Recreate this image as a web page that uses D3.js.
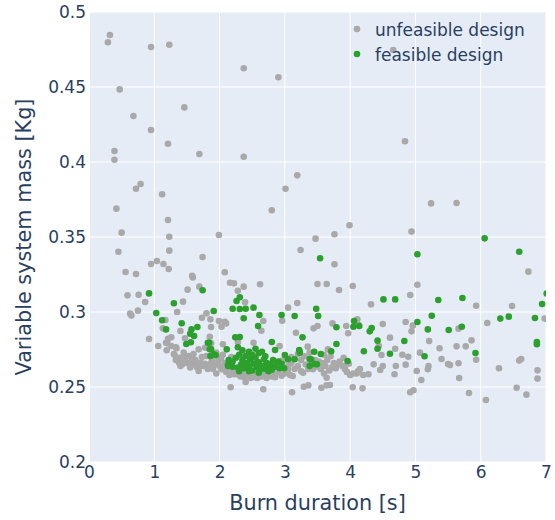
<!DOCTYPE html>
<html>
<head>
<meta charset="utf-8">
<title>Burn duration vs mass</title>
<script src="https://d3js.org/d3.v7.min.js"></script>
<style>
  body { margin: 0; background: #fff; }
  text { font-family: "DejaVu Sans", Verdana, sans-serif; fill: #2a3f5f; }
</style>
</head>
<body>
<svg width="555" height="520"></svg>
<script>
// tick values
const xTicks = [0, 1, 2, 3, 4, 5, 6, 7]
const yTicks = [0.2, 0.25, 0.3, 0.35, 0.4, 0.45, 0.5]

const seriesNames = ['unfeasible design', 'feasible design']
const seriesColors = ['#a9a9a9', '#2ca02c']

// [burn duration s, mass kg]
const unfeasible = [
  [0.32,0.4847],[0.29,0.4798],[0.95,0.4767],[1.23,0.4782],[2.37,0.4625],[2.90,0.4565],[0.47,0.4484],
  [1.46,0.4364],[0.68,0.4307],[0.95,0.4213],[1.21,0.4122],[0.39,0.4073],[0.39,0.4015],[1.69,0.4053],
  [2.37,0.4035],[0.79,0.3853],[0.72,0.3822],[1.12,0.3785],[0.42,0.3689],[2.80,0.3678],[1.21,0.3613],
  [0.50,0.3529],[1.23,0.3502],[1.99,0.3513],[0.45,0.3402],[1.23,0.3409],[1.74,0.3367],[1.04,0.3340],
  [4.66,0.4747],[4.84,0.4138],[3.19,0.3911],[3.01,0.3822],[5.24,0.3724],[5.63,0.3727],[3.99,0.3578],
  [4.94,0.3536],[3.76,0.3518],[3.47,0.3489],[3.24,0.3413],
  [3.76,0.3318],[6.73,0.3269],[3.50,0.3187],[3.64,0.3187],[4.04,0.3173],[5.03,0.3182],[3.83,0.3147],
  [4.92,0.3113],[4.32,0.3051],[5.93,0.3042],[6.48,0.3040],[3.19,0.3060],[3.05,0.3029],[2.96,0.2942],
  [6.98,0.2956],[6.10,0.2927],[3.73,0.2924],[3.44,0.2891],[3.50,0.2907],[3.94,0.2907],[4.11,0.2951],
  [4.12,0.2918],[4.50,0.2920],[4.85,0.2933],[4.96,0.2909],[4.94,0.2871],[5.66,0.2889],[3.97,0.2858],
  [3.17,0.2862],[4.61,0.2829],[5.21,0.2807],[5.86,0.2811],[2.92,0.2773],[3.35,0.2769],[5.63,0.2771],
  [5.77,0.2771],[5.37,0.2758],[4.44,0.2773],[4.69,0.2755],[3.66,0.2751],[4.48,0.2713],[4.80,0.2715],
  [4.89,0.2702],[5.07,0.2729],[5.93,0.2682],[5.40,0.2687],[6.62,0.2687],[6.59,0.2676],[5.66,0.2658],
  [5.50,0.2653],[5.53,0.2647],[5.20,0.2640],[5.19,0.2618],[6.28,0.2625],[6.87,0.2611],[6.87,0.2556],
  [5.02,0.2607],[4.85,0.2649],[4.70,0.2640],[4.50,0.2640],[4.36,0.2651],[4.46,0.2613],[5.09,0.2547],
  [5.67,0.2560],[5.82,0.2460],[6.08,0.2413],[6.55,0.2495],[6.70,0.2449],[4.92,0.2465],[4.97,0.2478],
  [4.04,0.2498],[4.19,0.2491],[3.56,0.2495],[3.64,0.2511],[3.69,0.2513],[3.29,0.2502],[3.36,0.2511],
  [3.11,0.2465],[4.68,0.2585],[4.28,0.2585],[4.10,0.2590],[4.00,0.2580],[3.90,0.2640],[3.64,0.2562],
  [0.56,0.3267],[0.72,0.3253],[0.95,0.3320],[1.14,0.3320],[1.22,0.3287],[0.59,0.3111],[0.76,0.3115],
  [0.86,0.3067],[0.63,0.2989],[0.65,0.2976],[0.75,0.3009],[0.92,0.2820],[1.06,0.2773],[1.17,0.2947],
  [1.13,0.2891],[1.21,0.2822],[1.18,0.2795],[1.26,0.2831],[1.26,0.2773],[1.35,0.3000],[1.44,0.3069],
  [1.40,0.2873],[1.51,0.3149],[1.58,0.3242],[1.59,0.3230],[1.69,0.3169],[1.80,0.2991],[1.73,0.2962],
  [1.86,0.2951],[1.47,0.2825],[1.33,0.2765],[1.31,0.2715],[1.39,0.2695],[1.38,0.2662],[2.08,0.3265],
  [2.16,0.3195],[2.22,0.3191],[2.37,0.3169],[2.28,0.3142],[2.62,0.3185],[2.39,0.3065],[2.67,0.2940],
  [2.64,0.2875],[1.99,0.2940],[2.08,0.2935],[2.10,0.2924],[2.03,0.2902],[2.28,0.2800],[2.52,0.2795],
  [1.87,0.2791],[2.17,0.2498],[2.40,0.2533],[2.67,0.2485],[1.85,0.2835],[1.87,0.2900],
  [1.19,0.2745],[1.20,0.2791],[1.34,0.2758],
  [1.30,0.2720],[1.33,0.2680],[1.35,0.2685],[1.40,0.2640],[1.43,0.2651],[1.45,0.2729],[1.48,0.2700],
  [1.50,0.2660],[1.53,0.2707],[1.53,0.2662],[1.55,0.2630],[1.58,0.2685],[1.60,0.2720],[1.62,0.2650],
  [1.66,0.2629],[1.68,0.2751],[1.68,0.2607],[1.71,0.2662],[1.73,0.2700],[1.75,0.2640],[1.78,0.2762],
  [1.80,0.2707],[1.82,0.2620],[1.85,0.2651],[1.88,0.2680],[1.90,0.2620],[1.95,0.2590],[1.98,0.2673],
  [2.00,0.2640],[2.03,0.2618],[2.05,0.2785],[2.08,0.2660],[2.10,0.2600],[2.12,0.2625],[2.15,0.2580],
  [2.18,0.2700],[2.20,0.2610],[2.22,0.2585],[2.26,0.2585],[2.28,0.2620],[2.32,0.2570],[2.35,0.2600],
  [2.38,0.2565],[2.41,0.2573],[2.45,0.2590],[2.48,0.2560],[2.52,0.2580],[2.55,0.2585],[2.58,0.2560],
  [2.62,0.2585],[2.65,0.2570],[2.70,0.2585],[2.72,0.2560],[2.76,0.2590],[2.80,0.2570],[2.85,0.2585],
  [2.90,0.2600],[2.95,0.2575],[3.00,0.2590],[3.05,0.2615],[3.08,0.2580],[3.12,0.2573],[3.15,0.2620],
  [3.20,0.2640],[3.25,0.2605],[3.28,0.2595],[3.32,0.2650],[3.36,0.2620],[3.40,0.2665],[3.43,0.2618],
  [3.46,0.2680],[3.50,0.2640],[3.55,0.2620],[3.57,0.2660],[3.60,0.2590],[3.62,0.2640],[3.65,0.2680],
  [3.68,0.2610],[3.72,0.2630],[3.75,0.2660],[3.80,0.2650],[3.84,0.2670],[3.88,0.2640],[3.92,0.2620],
  [3.98,0.2655],[4.05,0.2590],[4.15,0.2620],[4.20,0.2580],[3.00,0.2680],[3.10,0.2700],[3.20,0.2720],
  [3.30,0.2705],[3.10,0.2660],[3.38,0.2729],[2.95,0.2675],[3.60,0.2715],[3.70,0.2705],[3.90,0.2695],
  [2.05,0.2715],[1.95,0.2730],[2.35,0.2725],[1.98,0.2700],
  [1.42,0.2690],[1.47,0.2670],[1.57,0.2650],[1.63,0.2680],[1.70,0.2640],[1.77,0.2655],[1.93,0.2650],
  [2.02,0.2690],[2.06,0.2630],[2.15,0.2650],[2.25,0.2600],[2.55,0.2565],[2.85,0.2565],[3.05,0.2640],
  [3.25,0.2680],[3.45,0.2630],[3.52,0.2670],[3.78,0.2625],[3.95,0.2600],[4.12,0.2605]
]

const feasible = [
  [6.06,0.3491],[5.03,0.3385],[6.59,0.3402],[3.54,0.3358],[7.01,0.3124],[4.51,0.3084],[4.69,0.3084],
  [5.35,0.3080],[5.72,0.3093],[6.94,0.3053],[3.48,0.3022],[3.51,0.2973],[2.95,0.2980],[3.15,0.2973],
  [5.25,0.2975],[6.30,0.2956],[6.43,0.2969],[6.83,0.2960],[5.03,0.2933],[3.79,0.2898],[4.06,0.2940],
  [4.05,0.2902],[4.14,0.2907],[4.33,0.2893],[4.30,0.2871],[5.19,0.2884],[5.51,0.2880],[5.71,0.2902],
  [3.27,0.2831],[4.42,0.2809],[4.83,0.2807],[6.86,0.2800],[6.86,0.2785],[3.79,0.2787],[4.42,0.2755],
  [4.21,0.2738],[3.71,0.2738],[3.45,0.2735],[3.55,0.2720],[4.61,0.2722],[5.14,0.2705],[5.92,0.2727],
  [0.92,0.3124],[1.03,0.2993],[1.12,0.2945],[1.18,0.2884],[1.30,0.3058],[1.42,0.2925],[1.74,0.3145],
  [1.91,0.3007],[1.66,0.2900],[1.57,0.2884],[1.55,0.2855],[1.61,0.2840],[1.56,0.2798],[1.49,0.2787],
  [2.31,0.3098],[2.26,0.3073],[2.20,0.3022],[2.31,0.3020],[2.40,0.3022],[2.52,0.3029],[2.37,0.2958],
  [2.61,0.2980],[2.59,0.2907],[2.24,0.2831],[2.31,0.2833],[2.80,0.2800],[1.84,0.2795],[1.87,0.2753],
  [1.86,0.2707],[1.94,0.2713],[2.11,0.2751],[2.14,0.2680],[2.13,0.2640],[3.96,0.2673],[3.49,0.2651],
  [3.23,0.2729],[3.38,0.2640],[3.40,0.2684],[2.85,0.2747],[3.00,0.2713],[2.90,0.2669],[2.99,0.2625],
  [3.15,0.2685],[3.22,0.2747],[3.38,0.2687],[3.46,0.2653],[1.82,0.2795],[1.85,0.2751],[1.91,0.2718],
  [2.13,0.2651],[2.20,0.2670],[2.25,0.2695],[2.28,0.2630],[2.30,0.2715],[2.33,0.2650],[2.35,0.2680],
  [2.38,0.2625],[2.40,0.2705],[2.42,0.2660],[2.45,0.2635],[2.47,0.2685],[2.50,0.2610],[2.52,0.2655],
  [2.55,0.2695],[2.57,0.2630],[2.60,0.2665],[2.62,0.2615],[2.65,0.2640],[2.68,0.2685],[2.70,0.2620],
  [2.72,0.2660],[2.75,0.2635],[2.78,0.2655],[2.80,0.2615],[2.82,0.2680],[2.85,0.2635],[2.88,0.2665],
  [2.92,0.2625],[2.95,0.2655],[3.05,0.2685],[2.45,0.2735],[2.50,0.2715],[2.60,0.2725],[2.70,0.2705],
  [2.35,0.2745],[2.28,0.2765],[2.55,0.2755],[2.65,0.2735],[2.45,0.2605],[2.60,0.2595],[2.75,0.2605],
  [2.30,0.2605],[2.20,0.2635]
]

const svg = d3.select('svg')
const plot = {left: 89, top: 12, right: 546, bottom: 462}

const x = d3.scaleLinear().domain([0, 7]).range([plot.left, plot.right])
const y = d3.scaleLinear().domain([0.2, 0.5]).range([plot.bottom, plot.top])

// plot background
svg.append('rect')
  .attr('x', plot.left).attr('y', plot.top)
  .attr('width', plot.right - plot.left).attr('height', plot.bottom - plot.top)
  .attr('fill', '#e5ecf6')

// grid
svg.append('g').selectAll('line').data(xTicks).join('line')
  .attr('x1', d => x(d)).attr('x2', d => x(d))
  .attr('y1', plot.top).attr('y2', plot.bottom)
  .attr('stroke', '#fff').attr('stroke-width', d => d === 0 ? 2 : 1)
svg.append('g').selectAll('line').data(yTicks).join('line')
  .attr('x1', plot.left).attr('x2', plot.right)
  .attr('y1', d => y(d)).attr('y2', d => y(d))
  .attr('stroke', '#fff').attr('stroke-width', 1)

// axes (labels only)
svg.append('g')
  .attr('transform', 'translate(0,' + plot.bottom + ')')
  .call(d3.axisBottom(x).tickValues(xTicks).tickSize(0).tickPadding(4).tickFormat(d => String(d)))
svg.append('g')
  .attr('transform', 'translate(' + plot.left + ',0)')
  .call(d3.axisLeft(y).tickValues(yTicks).tickSize(0).tickPadding(3).tickFormat(d => String(d)))
svg.selectAll('.domain').remove()
svg.selectAll('.tick text')
  .attr('font-family', '"DejaVu Sans", Verdana, sans-serif')
  .attr('font-size', 17)
  .attr('fill', '#2a3f5f')

// axis titles
svg.append('text')
  .attr('x', (plot.left + plot.right) / 2).attr('y', 510)
  .attr('text-anchor', 'middle').attr('font-size', 20.8)
  .text('Burn duration [s]')
svg.append('text')
  .attr('transform', 'translate(31,' + (plot.top + plot.bottom) / 2 + ') rotate(-90)')
  .attr('text-anchor', 'middle').attr('font-size', 20.8)
  .text('Variable system mass [Kg]')

// points, clipped to the plot area
svg.append('clipPath').attr('id', 'clip')
  .append('rect')
  .attr('x', plot.left).attr('y', plot.top)
  .attr('width', plot.right - plot.left).attr('height', plot.bottom - plot.top)

const pts = svg.append('g').attr('clip-path', 'url(#clip)')
;[unfeasible, feasible].forEach((data, i) => {
  pts.append('g').selectAll('circle').data(data).join('circle')
    .attr('cx', d => x(d[0]))
    .attr('cy', d => y(d[1]))
    .attr('r', 3.3)
    .attr('fill', seriesColors[i])
})

// legend
const legend = svg.append('g').attr('transform', 'translate(357,29)')
seriesNames.forEach((name, i) => {
  const row = legend.append('g').attr('transform', 'translate(0,' + i * 25 + ')')
  row.append('circle').attr('r', 3.3).attr('fill', seriesColors[i])
  row.append('text').attr('x', 18).attr('y', 6.5).attr('font-size', 17).text(name)
})
</script>
</body>
</html>
